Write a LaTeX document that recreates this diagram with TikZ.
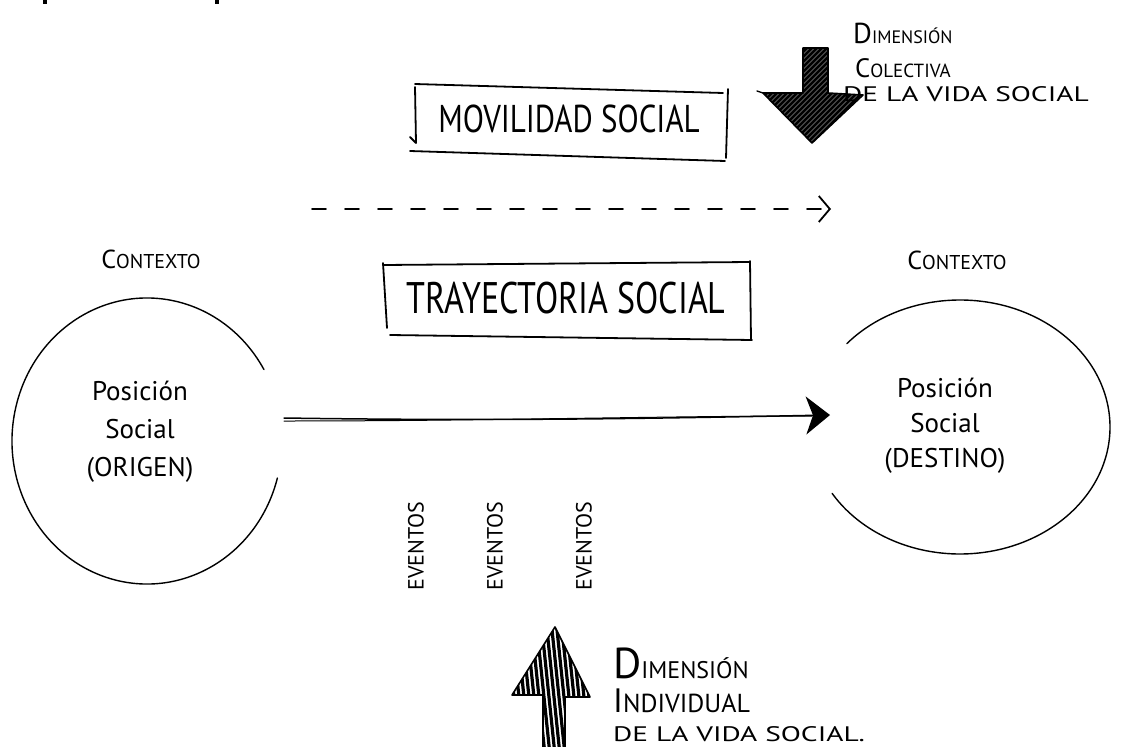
\documentclass[tikz,border=0pt]{standalone}
\usepackage{fontspec}
\setmainfont{PT Sans}
\usetikzlibrary{arrows.meta}
% font size helper and enlarged initial letter
\newcommand\hwsize[1]{\fontsize{#1}{#1}\selectfont}
\newcommand\Ini[2][1.5]{\scalebox{#1}{#2}}
\begin{document}
\begin{tikzpicture}[x=1pt,y=-1pt,line cap=round,line join=round]
\tikzset{
  ink/.style={line width=1.8pt,black},
  circ/.style={line width=1.4pt,black},
  lbl/.style={inner sep=0pt,text=black},
  side/.style={lbl,anchor=base west},
}
\useasboundingbox (0,0) rectangle (1133,747);
\fill[white] (0,0) rectangle (1133,747);
\fill[black] (43,0) rectangle (47,4);
\fill[black] (215,0) rectangle (219,4);

% upper frame: social mobility
\node[lbl,font=\hwsize{31}] (mov) at (569,119) {\scalebox{1}[1.25]{MOVILIDAD SOCIAL}};
\draw[ink] (415,84) -- (723,93);
\draw[ink] (415,87) -- (416,143) -- (410,137);
\draw[ink] (410,151) -- (725,161);
\draw[ink] (728,89) -- (726,158);

% dashed arrow
\coordinate (d1) at (312,209);
\coordinate (d2) at (831,209);
\draw[line width=1.8pt,dash pattern=on 14pt off 19pt,-{Straight Barb[length=11pt,width=26pt]}] (d1) -- (d2);

% lower frame: social trajectory
\node[lbl,font=\hwsize{34}] (tra) at (566,298) {\scalebox{1}[1.3]{TRAYECTORIA SOCIAL}};
\draw[ink] (383,265) -- (750,262);
\draw[ink] (383,263) -- (387,328);
\draw[ink] (390,335) -- (752,340);
\draw[ink] (750,261) -- (751,340);

% context labels
\node[lbl,font=\hwsize{20}] (ctxL) at (151,259) {\Ini[1.3]{C}ONTEXTO};
\node[lbl,font=\hwsize{20}] (ctxR) at (957,260) {\Ini[1.3]{C}ONTEXTO};

% origin and destination circles
\coordinate (oc) at (147,441);
\draw[circ] (oc) ++(15:135 and 143) arc[start angle=15,end angle=330,x radius=135,y radius=143];
\coordinate (dc) at (960,427);
\draw[circ] (dc) ++(-139:150 and 127) arc[start angle=-139,end angle=148.5,x radius=150,y radius=127];

\node[lbl,font=\fontsize{27}{38}\selectfont,align=center] (orig) at (140,432) {Posición\\Social\\(ORIGEN)};
\node[lbl,font=\fontsize{27}{35}\selectfont,align=center] (dest) at (945,426) {Posición\\Social\\(DESTINO)};

% trajectory arrow
\coordinate (m1) at (284,418);
\coordinate (m2) at (830,415);
\draw[line width=1.5pt,-{Stealth[length=24pt,width=38pt,inset=7pt]}] (m1) .. controls +(200,3) and +(-200,4) .. (m2);
\draw[line width=1pt] ([yshift=-3pt]m1) .. controls +(200,0) and +(-150,0) .. ([xshift=-18pt,yshift=-1pt]m2);

% events
\foreach \x/\n in {416/ev1,495/ev2,584/ev3}
  \node[lbl,font=\hwsize{22},rotate=90] (\n) at (\x,546) {EVENTOS};

% collective dimension arrow (down)
\begin{scope}
  \clip (803,48) -- (828,48) -- (828,93) -- (863,95) -- (812,143) -- (763,93) -- (803,93) -- cycle;
  \foreach \k in {0,...,24}
    \draw[line width=3pt] (685+\k*5,165) -- ++(125,-125);
\end{scope}
\draw[line width=1.6pt] (803,48) -- (828,48) -- (828,93) -- (863,95) -- (812,143) -- (763,93) -- (803,93) -- cycle;
\draw[line width=1.4pt] (763,93) -- (757,91);

\node[side,font=\hwsize{18}] (dcol1) at (853,43) {\Ini[1.6]{D}IMENSIÓN};
\node[side,font=\hwsize{19}] (dcol2) at (855,77) {\Ini[1.4]{C}OLECTIVA};
\node[side,font=\hwsize{21}] (dcol3) at (843,101) {\scalebox{1.4}[1]{DE LA VIDA SOCIAL}};

% individual dimension arrow (up)
\begin{scope}
  \clip (555,627) -- (590,697) -- (565,697) -- (565,748) -- (543,748) -- (543,695) -- (512,695) -- cycle;
  \foreach \k in {0,...,26}
    \draw[line width=3.2pt] (500+\k*5,755) -- ++(-14,-135);
\end{scope}
\draw[line width=1.6pt] (543,748) -- (543,695) -- (512,695) -- (555,627) -- (590,697) -- (565,697) -- (565,748);

\node[side,font=\hwsize{24}] (din1) at (613,678) {\Ini[1.8]{D}IMENSIÓN};
\node[side,font=\hwsize{26}] (din2) at (613,712) {\Ini[1.3]{I}NDIVIDUAL};
\node[side,font=\hwsize{21}] (din3) at (613,741) {\scalebox{1.4}[1]{DE LA VIDA SOCIAL.}};
\end{tikzpicture}
\end{document}
